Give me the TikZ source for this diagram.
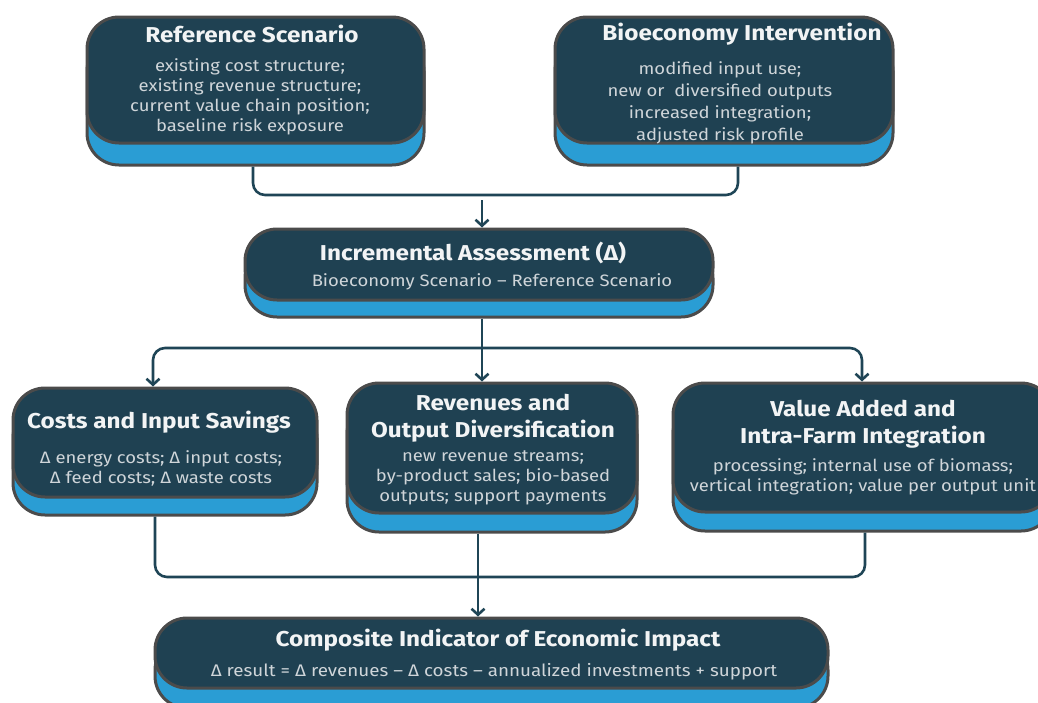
\documentclass[tikz,border=0pt]{standalone}
\usepackage{fontspec}
\setmainfont{Fira Sans}
\newfontfamily\headfont[FakeStretch=1.13]{Fira Sans}
\newfontfamily\bodyfont[FakeStretch=1.12]{Fira Sans}
\usetikzlibrary{arrows.meta,calc}

\definecolor{navy}{HTML}{1F4152}
\definecolor{sky}{HTML}{2A9DD4}
\definecolor{rim}{HTML}{4B4B4B}
\definecolor{wire}{HTML}{1F4556}
\definecolor{headtxt}{HTML}{F2F4F5}
\definecolor{bodytxt}{HTML}{CFD5D9}

\tikzset{
  cardtop/.style={draw=rim, fill=navy, line width=3pt, rounded corners=32pt, inner sep=0pt},
  cardbase/.style={draw=rim, fill=sky, line width=3pt, rounded corners=32pt, inner sep=0pt},
  headline/.style={text=headtxt, align=center, inner sep=0pt,
    font=\headfont\bfseries\fontsize{21.5}{27}\selectfont},
  bodyline/.style={text=bodytxt, align=center, inner sep=0pt,
    font=\bodyfont\fontsize{16.5}{20}\selectfont},
  wireline/.style={draw=wire, line width=2.6pt, rounded corners=12pt},
  wirearrow/.style={wireline, -{Straight Barb[length=6pt,width=13pt]}}
}

% a card: blue base layer shifted down, navy top layer
\newcommand\drawcard[6]{%
  \node[cardbase, minimum width=#4pt, minimum height=#5pt] (#1base) at (#2,#3+#6) {};
  \node[cardtop,  minimum width=#4pt, minimum height=#5pt] (#1) at (#2,#3) {};
}

\begin{document}
\begin{tikzpicture}[x=1pt,y=-1pt]
\useasboundingbox (0,0) rectangle (1038,702);
\clip (0,0) rectangle (1038,702);
\fill[white] (0,0) rectangle (1038,702);

% cards
\drawcard{ref}{255.5}{80}{337}{126}{22}
\drawcard{bio}{724}{80}{338}{126}{22}
\drawcard{inc}{479}{264.5}{468}{71}{17}
\drawcard{costs}{165}{442.5}{304}{109}{18}
\drawcard{rev}{492}{448}{290}{130}{19}
\drawcard{value}{863}{447.5}{380}{129}{19}
\drawcard{comp}{491.5}{653}{673}{70}{20}

% texts
\node[headline] (ref-h) at (252,34) {Reference Scenario};
\node[bodyline] (ref-b) at (250,97) {existing cost structure;\\existing revenue structure;\\current value chain position;\\baseline risk exposure};

\node[headline] (bio-h) at (742,34) {Bioeconomy Intervention};
\node[bodyline, font=\bodyfont\fontsize{16.5}{22}\selectfont] (bio-b) at (720,103) {modified input use;\\new or\ \ diversified outputs\\increased integration;\\adjusted risk profile};

\node[headline] (inc-h) at (473,253) {Incremental Assessment (Δ)};
\node[bodyline] (inc-b) at (492,282) {Bioeconomy Scenario – Reference Scenario};

\node[headline] (costs-h) at (159,422) {Costs and Input Savings};
\node[bodyline] (costs-b) at (161,468) {Δ energy costs; Δ input costs;\\Δ feed costs; Δ waste costs};

\node[headline] (rev-h) at (493,418.5) {Revenues and\\Output Diversification};
\node[bodyline] (rev-b) at (493,478) {new revenue streams;\\by-product sales; bio-based\\outputs; support payments};

\node[headline] (value-h) at (863,424) {Value Added and\\Intra-Farm Integration};
\node[bodyline] (value-b) at (863,477) {processing; internal use of biomass;\\vertical integration; value per output unit};

\node[headline] (comp-h) at (498,640) {Composite Indicator of Economic Impact};
\node[bodyline, font=\bodyfont\fontsize{16.8}{20}\selectfont] (comp-b) at (494,672) {Δ result = Δ revenues – Δ costs – annualized investments + support};

% connector guide points
\coordinate (xrefout) at (253,0);
\coordinate (xbioout) at (738,0);
\coordinate (jtopbar) at (482,195);
\coordinate (jtop) at (482,200);
\coordinate (xmid) at (482,0);
\coordinate (jmid) at (482,348);
\coordinate (xcostin) at (153,0);
\coordinate (xvalin) at (862,0);
\coordinate (xcostout) at (155,0);
\coordinate (xvalout) at (865,0);
\coordinate (jlow) at (478,577);

% scenarios merge into the assessment
\draw[wireline] (xrefout |- refbase.south) |- (jtopbar) -| (xbioout |- biobase.south);
\draw[wirearrow] (jtop) -- (jtop |- inc.north);

% assessment splits into three dimensions
\draw[wireline] (xmid |- incbase.south) -- (jmid);
\draw[wirearrow] (jmid) -- (xmid |- rev.north);
\draw[wirearrow] (jmid) -| (xcostin |- costs.north);
\draw[wirearrow] (jmid) -| (xvalin |- value.north);

% dimensions combine into the composite indicator
\draw[wireline] (xcostout |- costsbase.south) |- (jlow) -| (xvalout |- valuebase.south);
\draw[wirearrow] (jlow |- revbase.south) -- (jlow |- comp.north);
\end{tikzpicture}
\end{document}
